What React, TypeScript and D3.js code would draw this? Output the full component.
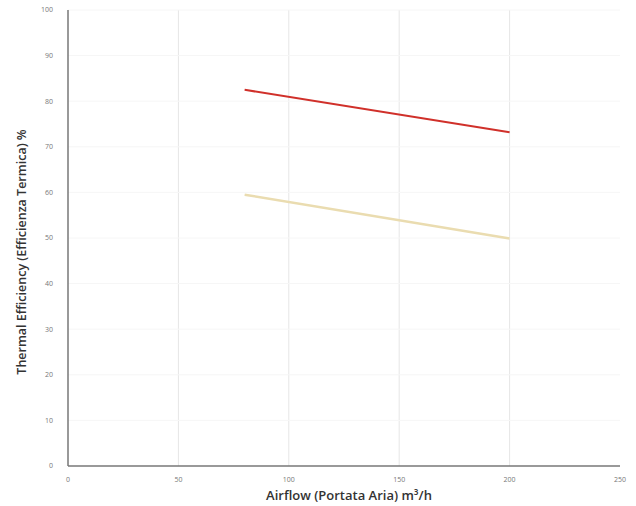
import React from "react";
import * as d3 from "d3";

const airflow = [80, 200];
const redSeries = [82.5, 73.2];
const yellowSeries = [59.5, 49.9];
const xTicks = [0, 50, 100, 150, 200, 250];
const yTicks = [0, 10, 20, 30, 40, 50, 60, 70, 80, 90, 100];
const xLabel = "Airflow (Portata Aria) m³/h";
const yLabel = "Thermal Efficiency (Efficienza Termica) %";

const W = 636;
const H = 506;
const M = { left: 68, right: 16, top: 10, bottom: 40 };

export default function App() {
  const x = d3.scaleLinear().domain([0, 250]).range([M.left, W - M.right]);
  const y = d3.scaleLinear().domain([0, 100]).range([H - M.bottom, M.top]);
  const line = d3
    .line<number>()
    .x((_, i) => x(airflow[i]))
    .y((d) => y(d));
  const font = "'Open Sans', 'DejaVu Sans', sans-serif";
  return (
    <svg
      width={W}
      height={H}
      style={{ position: "absolute", left: 0, top: 0, background: "#fff" }}
      fontFamily={font}
    >
      {xTicks.slice(1, -1).map((t) => (
        <line key={"gx" + t} x1={x(t)} x2={x(t)} y1={y(100)} y2={y(0)} stroke="#e6e6e6" strokeWidth={1} />
      ))}
      {yTicks.slice(1).map((t) => (
        <line key={"gy" + t} x1={x(0)} x2={x(250)} y1={y(t)} y2={y(t)} stroke="#f6f6f6" strokeWidth={1} />
      ))}
      <line x1={x(0)} x2={x(0)} y1={y(100)} y2={y(0)} stroke="#777" strokeWidth={1.5} />
      <line x1={x(0)} x2={x(250)} y1={y(0)} y2={y(0)} stroke="#777" strokeWidth={1.5} />
      {yTicks.map((t) => (
        <text key={"ty" + t} x={x(0) - 15} y={y(t)} dy="0.35em" textAnchor="end" fontSize={7} fill="#777">
          {t}
        </text>
      ))}
      {xTicks.map((t) => (
        <text key={"tx" + t} x={x(t)} y={y(0) + 16} textAnchor="middle" fontSize={7} fill="#777">
          {t}
        </text>
      ))}
      <path d={line(redSeries) || ""} fill="none" stroke="#d0302a" strokeWidth={2} />
      <path d={line(yellowSeries) || ""} fill="none" stroke="#eadcb0" strokeWidth={2.5} />
      <text x={349} y={H - 6} textAnchor="middle" fontSize={13} fontWeight={600} fill="#333">
        {xLabel}
      </text>
      <text
        transform={`translate(26, 252) rotate(-90)`}
        textAnchor="middle"
        fontSize={12.5}
        fontWeight={600}
        fill="#333"
      >
        {yLabel}
      </text>
    </svg>
  );
}
